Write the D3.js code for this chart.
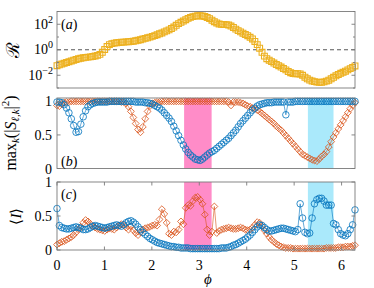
<!DOCTYPE html>
<html><head><meta charset="utf-8">
<script src="https://cdn.jsdelivr.net/npm/d3@7"></script>
<style>html,body{margin:0;padding:0;background:#fff;}svg{display:block;font-family:"Liberation Serif","Times New Roman",serif;}</style>
</head><body>
<svg id="c" width="374" height="288"></svg>
<script>
// ---- data (sampled at phi_i = i * 2π/125, i = 0..125) ----
const N = 126;
const phi = d3.range(N).map(i => i * 2 * Math.PI / (N - 1));
// panel (a): log10 R
const log10R = [-1.25,-1.18,-1.12,-1.06,-1.00,-0.94,-0.88,-0.82,-0.76,-0.71,
 -0.67,-0.63,-0.60,-0.58,-0.56,-0.53,-0.49,-0.44,-0.36,-0.20,
 0.02,0.25,0.40,0.48,0.52,0.55,0.57,0.59,0.60,0.62,
 0.63,0.65,0.67,0.70,0.74,0.79,0.84,0.89,0.94,0.99,
 1.05,1.11,1.18,1.25,1.32,1.40,1.48,1.56,1.66,1.78,
 1.92,2.05,2.15,2.25,2.36,2.46,2.54,2.60,2.64,2.66,
 2.67,2.65,2.61,2.53,2.44,2.32,2.20,2.10,2.02,1.99,
 1.98,1.97,1.94,1.86,1.75,1.62,1.50,1.40,1.30,1.20,
 1.10,0.98,0.85,0.65,0.40,0.12,-0.20,-0.50,-0.70,-0.82,
 -0.93,-1.04,-1.15,-1.25,-1.36,-1.47,-1.58,-1.70,-1.80,-1.86,
 -1.88,-1.88,-1.90,-2.00,-2.15,-2.28,-2.38,-2.45,-2.50,-2.54,
 -2.56,-2.55,-2.52,-2.46,-2.39,-2.28,-2.16,-2.04,-1.94,-1.85,
 -1.77,-1.68,-1.58,-1.48,-1.38,-1.27];
// panel (b): max_k |S|^2
const bBlue = [0.99,0.99,0.98,0.95,0.90,0.83,0.74,0.64,0.54,0.55,
 0.66,0.77,0.86,0.92,0.95,0.97,0.98,0.99,0.99,0.99,
 0.99,0.99,1.00,1.00,1.00,1.00,1.00,1.00,1.00,1.00,
 1.00,1.00,1.00,0.99,0.99,0.99,0.99,0.98,0.98,0.97,
 0.96,0.94,0.92,0.90,0.87,0.83,0.79,0.75,0.70,0.63,
 0.56,0.49,0.42,0.35,0.29,0.24,0.20,0.17,0.14,0.13,
 0.12,0.14,0.17,0.20,0.23,0.25,0.27,0.30,0.33,0.36,
 0.39,0.42,0.45,0.49,0.53,0.57,0.62,0.67,0.71,0.75,
 0.79,0.83,0.87,0.90,0.93,0.95,0.96,0.97,0.98,0.98,
 0.98,0.99,0.99,0.99,0.99,0.99,0.80,0.99,0.99,0.99,
 1.00,1.00,1.00,1.00,1.00,1.00,1.00,1.00,1.00,1.00,
 1.00,1.00,1.00,1.00,1.00,1.00,1.00,1.00,1.00,1.00,
 1.00,1.00,1.00,1.00,1.00,1.00];
const bOrange = [0.94,0.93,0.96,0.98,0.99,0.99,1.00,1.00,1.00,1.00,
 1.00,1.00,1.00,1.00,1.00,1.00,1.00,1.00,1.00,1.00,
 1.00,1.00,1.00,1.00,1.00,1.00,1.00,0.99,0.99,0.97,
 0.92,0.85,0.76,0.67,0.58,0.54,0.62,0.74,0.85,0.93,
 0.97,0.98,0.99,0.99,1.00,1.00,1.00,1.00,1.00,1.00,
 1.00,1.00,1.00,1.00,1.00,1.00,1.00,1.00,1.00,1.00,
 1.00,1.00,1.00,1.00,1.00,1.00,1.00,1.00,1.00,1.00,
 1.00,1.00,0.99,0.94,0.99,0.99,0.99,0.98,0.97,0.95,
 0.93,0.92,0.90,0.89,0.87,0.85,0.82,0.79,0.76,0.73,
 0.70,0.67,0.63,0.60,0.57,0.53,0.49,0.45,0.41,0.37,
 0.33,0.29,0.25,0.21,0.19,0.17,0.15,0.13,0.12,0.11,
 0.14,0.18,0.21,0.25,0.32,0.40,0.47,0.53,0.59,0.65,
 0.71,0.77,0.83,0.89,0.94,0.98];
// panel (c): <I>
const cBlue = [0.61,0.36,0.33,0.32,0.31,0.31,0.32,0.33,0.34,0.33,
 0.32,0.30,0.30,0.31,0.33,0.35,0.36,0.35,0.34,0.33,
 0.32,0.33,0.34,0.35,0.36,0.37,0.36,0.35,0.37,0.40,
 0.42,0.43,0.41,0.38,0.34,0.30,0.26,0.23,0.20,0.17,
 0.15,0.13,0.11,0.10,0.09,0.08,0.07,0.06,0.05,0.05,
 0.04,0.04,0.03,0.03,0.03,0.03,0.02,0.02,0.02,0.02,
 0.02,0.02,0.02,0.02,0.02,0.02,0.02,0.02,0.02,0.03,
 0.03,0.03,0.04,0.05,0.07,0.08,0.10,0.12,0.14,0.16,
 0.19,0.22,0.26,0.30,0.34,0.37,0.36,0.33,0.30,0.28,
 0.28,0.29,0.30,0.31,0.32,0.32,0.31,0.30,0.29,0.28,
 0.27,0.30,0.68,0.47,0.26,0.24,0.25,0.47,0.68,0.74,
 0.76,0.76,0.72,0.66,0.66,0.66,0.39,0.37,0.30,0.24,
 0.22,0.21,0.24,0.30,0.37,0.59];
const cOrange = [0.08,0.10,0.12,0.13,0.15,0.17,0.19,0.22,0.26,0.30,
 0.34,0.40,0.44,0.42,0.38,0.35,0.33,0.31,0.30,0.29,
 0.28,0.30,0.32,0.31,0.30,0.33,0.36,0.38,0.37,0.33,
 0.30,0.35,0.29,0.25,0.22,0.26,0.30,0.32,0.33,0.34,
 0.36,0.37,0.36,0.45,0.60,0.53,0.40,0.24,0.22,0.27,
 0.26,0.30,0.42,0.38,0.62,0.66,0.65,0.72,0.77,0.78,
 0.74,0.68,0.52,0.30,0.22,0.27,0.64,0.25,0.28,0.30,
 0.31,0.32,0.33,0.32,0.31,0.31,0.32,0.33,0.32,0.30,
 0.29,0.30,0.33,0.37,0.41,0.40,0.35,0.29,0.24,0.19,
 0.15,0.12,0.09,0.07,0.05,0.04,0.03,0.03,0.03,0.02,
 0.02,0.02,0.02,0.02,0.02,0.02,0.02,0.02,0.02,0.02,
 0.02,0.02,0.02,0.03,0.03,0.03,0.03,0.03,0.04,0.04,
 0.04,0.05,0.05,0.05,0.06,0.07];
const shadePink = [2.68, 3.26];
const shadeCyan = [5.29, 5.83];
const xTicks = [0,1,2,3,4,5,6];
const aTicks = [-2, 0, 2];
const aMinor = [-3, -1, 1, 3];
const bcTicks = [0, 0.5, 1];

// ---- colours ----
const cBlueCol = "#0072BD", cOrangeCol = "#D95319", cYellow = "#EDB120";
const pinkCol = "#FF8CC8", cyanCol = "#AAE9FB", axisCol = "#7a7a7a";

const svg = d3.select("#c");
const x = d3.scaleLinear().domain([0, 2*Math.PI]).range([57, 355]);
const ya = d3.scaleLog().domain([1e-3, 1e3]).range([88, 11.5]);
const yb = d3.scaleLinear().domain([0, 1.05]).range([168.5, 98]);
const yc = d3.scaleLinear().domain([0, 1]).range([250, 182]);

// shaded regions in (b) and (c)
[[yb, 0, 1.05], [yc, 0, 1]].forEach(([ys, lo, hi]) => {
  [[shadePink, pinkCol], [shadeCyan, cyanCol]].forEach(([r, col]) => {
    svg.append("rect").attr("x", x(r[0])).attr("width", x(r[1]) - x(r[0]))
      .attr("y", ys(hi)).attr("height", ys(lo) - ys(hi)).attr("fill", col);
  });
});

// dashed reference in (a)
svg.append("line").attr("x1", x(0)).attr("x2", x(2*Math.PI))
  .attr("y1", ya(1)).attr("y2", ya(1)).attr("stroke", "#444")
  .attr("stroke-width", 0.9).attr("stroke-dasharray", "4,3");

function series(ys, vals, col, shape, size, sw, transform) {
  const pts = vals.map((v, i) => [x(phi[i]), ys(transform ? transform(v) : v)]);
  svg.append("path").attr("d", d3.line()(pts)).attr("fill", "none")
    .attr("stroke", col).attr("stroke-width", 0.6);
  const sym = d3.symbol().type(shape).size(size);
  svg.append("g").selectAll("path").data(pts).join("path")
    .attr("transform", d => `translate(${d[0]},${d[1]})`)
    .attr("d", sym).attr("fill", "none").attr("stroke", col).attr("stroke-width", sw);
}
series(ya, log10R, cYellow, d3.symbolSquare, 34, 1.1, v => Math.pow(10, v));
series(yb, bOrange, cOrangeCol, d3.symbolDiamond2, 30, 0.8);
series(yb, bBlue, cBlueCol, d3.symbolCircle, 34, 0.8);
series(yc, cOrange, cOrangeCol, d3.symbolDiamond2, 30, 0.8);
series(yc, cBlue, cBlueCol, d3.symbolCircle, 34, 0.8);

// frames
function frame(top, bottom) {
  svg.append("rect").attr("x", x(0)).attr("y", top).attr("width", x(2*Math.PI) - x(0))
    .attr("height", bottom - top).attr("fill", "none").attr("stroke", axisCol).attr("stroke-width", 0.9);
}
frame(ya(1e3), ya(1e-3));
frame(yb(1.05), yb(0));
frame(yc(1), yc(0));

function yTicks(ys, vals, len) {
  vals.forEach(v => {
    const yy = ys(v);
    svg.append("line").attr("x1", x(0)).attr("x2", x(0) + len).attr("y1", yy).attr("y2", yy).attr("stroke", axisCol).attr("stroke-width", 0.9);
    svg.append("line").attr("x1", x(2*Math.PI)).attr("x2", x(2*Math.PI) - len).attr("y1", yy).attr("y2", yy).attr("stroke", axisCol).attr("stroke-width", 0.9);
  });
}
yTicks(v => ya(Math.pow(10, v)), aTicks, 3.5);
yTicks(v => ya(Math.pow(10, v)), aMinor, 2);
yTicks(yb, bcTicks, 3.5);
yTicks(yc, bcTicks, 3.5);
xTicks.forEach(t => {
  svg.append("line").attr("x1", x(t)).attr("x2", x(t)).attr("y1", yc(0)).attr("y2", yc(0) - 3.5).attr("stroke", axisCol).attr("stroke-width", 0.9);
  svg.append("line").attr("x1", x(t)).attr("x2", x(t)).attr("y1", yc(1)).attr("y2", yc(1) + 3.5).attr("stroke", axisCol).attr("stroke-width", 0.9);
  svg.append("text").attr("x", x(t)).attr("y", 270).attr("text-anchor", "middle")
    .attr("font-size", 14).text(d3.format("d")(t));
});

// y tick labels
aTicks.forEach(v => {
  const t = svg.append("text").attr("x", 53).attr("y", ya(Math.pow(10, v)) + 4.5)
    .attr("text-anchor", "end").attr("font-size", 14);
  t.append("tspan").text("10");
  t.append("tspan").attr("dy", -6).attr("font-size", 10).text(v < 0 ? "\u2212" + Math.abs(v) : String(v));
});
[[yb], [yc]].forEach(([ys]) => {
  bcTicks.forEach(v => {
    svg.append("text").attr("x", 52).attr("y", ys(v) + 5).attr("text-anchor", "end")
      .attr("font-size", 14).text(v === 0.5 ? "0.5" : String(v));
  });
});

// panel labels
[["a", 29], ["b", 166], ["c", 199]].forEach(([l, yy]) => {
  const t = svg.append("text").attr("x", 61).attr("y", yy).attr("font-size", 14);
  t.append("tspan").text("(");
  t.append("tspan").attr("font-style", "italic").text(l);
  t.append("tspan").text(")");
});

// axis labels
svg.append("text").attr("transform", `translate(19,${ya(1)}) rotate(-90)`)
  .attr("text-anchor", "middle").attr("font-size", 18).text("\u211B");
const lb = svg.append("text").attr("transform", "translate(16,133) rotate(-90)")
  .attr("text-anchor", "middle").attr("font-size", 16);
lb.append("tspan").text("max");
lb.append("tspan").attr("dy", 3).attr("font-size", 11).attr("font-style", "italic").text("k");
lb.append("tspan").attr("dy", -3).text("(|");
lb.append("tspan").attr("font-style", "italic").text("S");
lb.append("tspan").attr("dy", 3).attr("font-size", 11).attr("font-style", "italic").text("\u2113,k");
lb.append("tspan").attr("dy", -3).text("|");
lb.append("tspan").attr("dy", -7).attr("font-size", 11).text("2");
lb.append("tspan").attr("dy", 7).text(")");
const li = svg.append("text").attr("transform", `translate(21,${yc(0.5)}) rotate(-90)`)
  .attr("text-anchor", "middle").attr("font-size", 15);
li.append("tspan").text("\u27E8");
li.append("tspan").attr("font-style", "italic").text("I");
li.append("tspan").text("\u27E9");
svg.append("text").attr("x", x(Math.PI) + 2).attr("y", 284).attr("text-anchor", "middle")
  .attr("font-size", 15).attr("font-style", "italic").text("\u03D5");
</script>
</body></html>
